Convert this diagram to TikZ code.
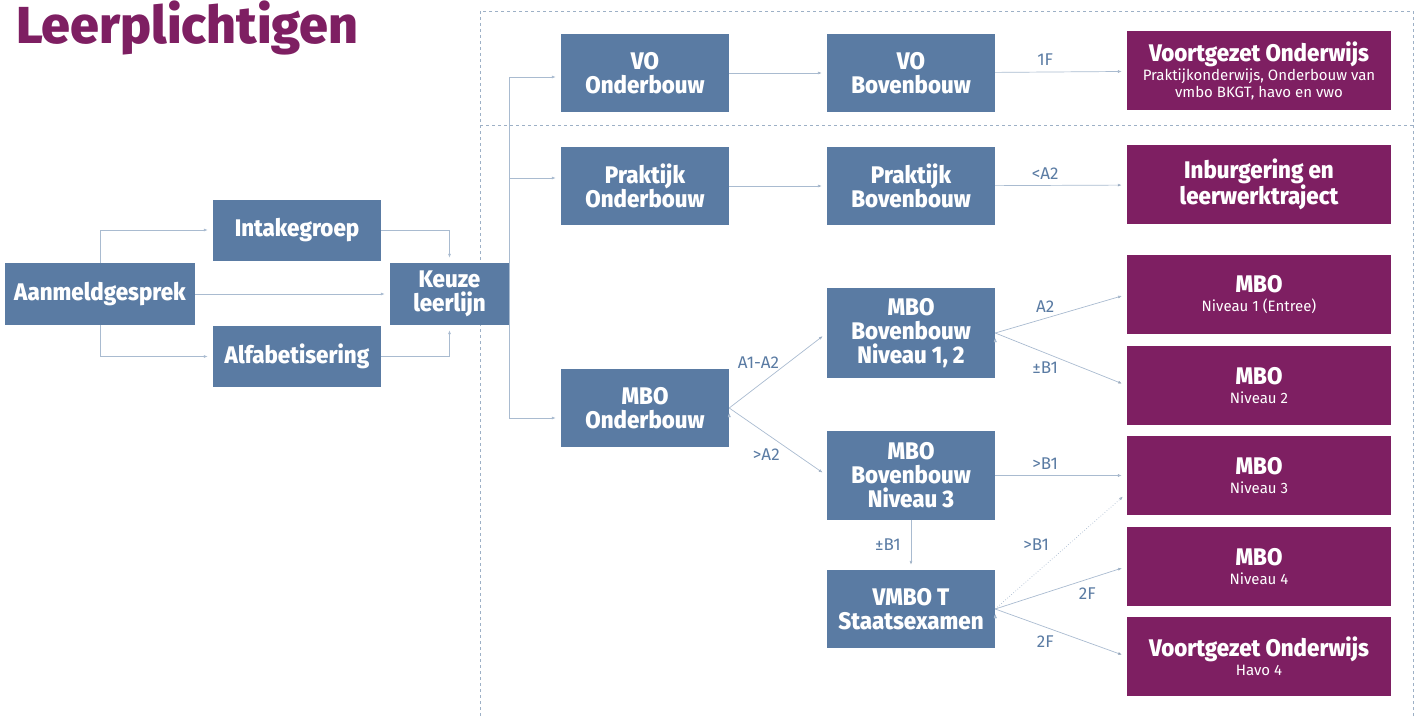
\documentclass[tikz,border=0pt]{standalone}
\usepackage{fontspec}
\setmainfont{Fira Sans}
\newfontfamily\titelfont{Fira Sans ExtraBold}
\newfontfamily\blokfont{Fira Sans ExtraBold}[FakeStretch=0.93]
\usepackage{tikz}
\usetikzlibrary{arrows.meta,calc,positioning}
\definecolor{blokblauw}{HTML}{5A7BA3}
\definecolor{doelpaars}{HTML}{7E1F62}
\definecolor{lijngrijs}{HTML}{A9BBD0}
\definecolor{kaderkleur}{HTML}{9DB0C6}
\newcommand{\subtekst}{\normalfont\fontsize{15}{15}\selectfont}
\tikzset{
    -{Latex[length=4pt,width=3pt]},auto,semithick,
    blok/.style ={rectangle, fill=blokblauw, text=white, align=center, inner sep=0pt,
        font=\blokfont\fontsize{24}{24}\selectfont, minimum width=168pt, minimum height=78pt},
    doel/.style = {blok, fill=doelpaars, minimum width=264pt, minimum height=79pt},
    pijl/.style = {draw=lijngrijs, line width=0.7pt, shorten >=5pt},
    el/.style = {inner sep=0pt, text=blokblauw, font=\fontsize{17}{17}\selectfont},
    kader/.style = {-, draw=kaderkleur, dash pattern=on 3pt off 3pt, line width=0.7pt}
}

\begin{document}
\begin{tikzpicture}[x=1pt,y=-1pt]
    \useasboundingbox (0,0) rectangle (1416,717);
    \node[anchor=base west, text=doelpaars, font=\titelfont\fontsize{52}{52}\selectfont, inner sep=0pt] (titel) at (16,44) {Leerplichtigen};

    % kader rechts
    \draw[kader] (480,11) rectangle (1413,722);
    \draw[kader] (480,125) -- (1413,125);

    \node[blok, minimum width=190pt, minimum height=62pt] (aanm) at (100,294) {Aanmeldgesprek};
    \node[blok, minimum height=61pt] (intake) at (297,230) {Intakegroep};
    \node[blok, minimum height=61pt] (alfa) at (297,356.5) {Alfabetisering};
    \node[blok, minimum width=119pt, minimum height=62pt] (keuze) at (449.5,294) {Keuze\\leerlijn};

    \node[blok] (vo1) at (645,73) {VO\\Onderbouw};
    \node[blok] (vo2) at (911,73) {VO\\Bovenbouw};
    \node[doel] (vo3) at (1259,70.5) {Voortgezet Onderwijs\\[-5pt]{\subtekst Praktijkonderwijs, Onderbouw van}\\[-7pt]{\subtekst vmbo BKGT, havo en vwo}};

    \node[blok] (pr1) at (645,186) {Praktijk\\Onderbouw};
    \node[blok] (pr2) at (911,186) {Praktijk\\Bovenbouw};
    \node[doel] (inb) at (1259,184.5) {Inburgering en\\leerwerktraject};

    \node[blok] (mbo1) at (645,408) {MBO\\Onderbouw};
    \node[blok, minimum height=90pt] (b12) at (911,333) {MBO\\Bovenbouw\\Niveau 1, 2};
    \node[blok, minimum height=89pt] (b3) at (911,475.5) {MBO\\Bovenbouw\\Niveau 3};
    \node[blok] (vmbo) at (911,609) {VMBO T\\Staatsexamen};

    \node[doel] (n1) at (1259,294.5) {MBO\\[-5pt]{\subtekst Niveau 1 (Entree)}};
    \node[doel] (n2) at (1259,385.5) {MBO\\[-5pt]{\subtekst Niveau 2}};
    \node[doel] (n3) at (1259,475.5) {MBO\\[-5pt]{\subtekst Niveau 3}};
    \node[doel] (n4) at (1259,566.5) {MBO\\[-5pt]{\subtekst Niveau 4}};
    \node[doel] (havo) at (1259,656.5) {Voortgezet Onderwijs\\[-5pt]{\subtekst Havo 4}};

    \path[pijl] (aanm.north) |- (intake.west);
    \path[pijl] (aanm.south) |- (alfa.west);
    \path[pijl] (aanm) -- (keuze);
    \path[pijl] (intake.east) -| (keuze.north);
    \path[pijl] (alfa.east) -| (keuze.south);

    \path[pijl] (keuze.east) |- ([yshift=-4pt]vo1.west);
    \path[pijl] (keuze.east) |- ([yshift=8pt]pr1.west);
    \path[pijl] (keuze.east) |- ([yshift=-10pt]mbo1.west);

    \path[pijl] (vo1) edge (vo2);
    \path[pijl] (vo2) edge node[el, pos=0.38, above=6pt] {1F} (vo3);
    \path[pijl] (pr1) edge (pr2);
    \path[pijl] (pr2) edge node[el, pos=0.38, above=6pt] {<A2} (inb);

    \path[pijl] (mbo1.east) edge node[el, pos=0.3, above=17pt] {A1-A2} (b12.west);
    \path[pijl] (mbo1.east) edge node[el, pos=0.38, below=15pt] {>A2} (b3.west);
    \path[pijl] (b12.east) edge node[el, pos=0.38, above=6pt] {A2} (n1.west);
    \path[pijl] (b12.east) edge node[el, pos=0.38, below=8pt] {±B1} (n2.west);
    \path[pijl] (b3) edge node[el, pos=0.38, above=6pt] {>B1} (n3);
    \path[pijl] (b3) edge node[el, left=10pt] {±B1} (vmbo);
    \path[pijl, dotted] (vmbo.east) edge node[el, pos=0.38, above left=14pt and -4pt] {>B1} ([yshift=22pt]n3.south west);
    \path[pijl] (vmbo.east) edge node[el, pos=0.7, below=8pt] {2F} (n4.west);
    \path[pijl] (vmbo.east) edge node[el, pos=0.38, below=8pt] {2F} (havo.west);
\end{tikzpicture}
\end{document}
